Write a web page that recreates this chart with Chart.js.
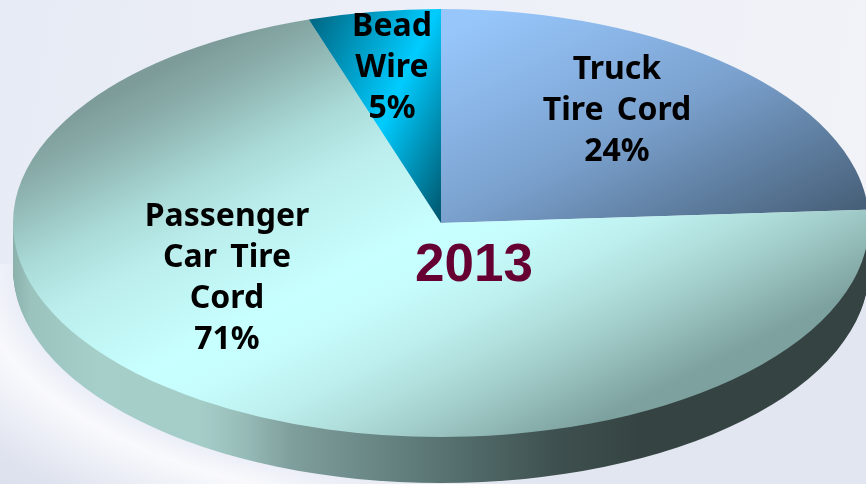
<!DOCTYPE html>
<html><head><meta charset="utf-8">
<style>
html,body{margin:0;padding:0;width:866px;height:484px;overflow:hidden;
background-color:#e6e9f3;
background-image:
 linear-gradient(90deg,rgba(226,230,240,0) 30%,rgba(226,230,240,1) 62%),
 radial-gradient(ellipse 470px 238px at 441px 4px,rgba(255,255,255,0) 90%,rgba(250,250,253,.95) 99%,rgba(244,245,250,.7) 106%,rgba(222,226,238,.9) 122%,rgba(216,221,234,1) 140%),
 linear-gradient(100deg,#e7ebf5 0,#eceff7 40%,#f1f3f8 100%);
background-size:100% 60%,100% 220px,100% 100%;
background-position:0 100%,0 100%,0 0;
background-repeat:no-repeat;}
canvas{display:block}
</style>
<script src="https://cdn.jsdelivr.net/npm/chart.js@4"></script>
</head><body><canvas id="c" width="866" height="484"></canvas>
<script>
const categories=['Truck Tire Cord','Passenger Car Tire Cord','Bead Wire'];
const shares=[24,71,5];
const labelLines=[['Truck','Tire Cord','24%'],['Passenger','Car Tire','Cord','71%'],['Bead','Wire','5%']];
const centreTitle='2013';

const CX=441,CY=223,RX=428,RY=214,DEPTH=46;
const K=RY/RX;
const canvas=document.getElementById('c');
// gradient ends are given in page pixels; the flattened drawing space needs them remapped
function linear(c,cx,cy,x0,y0,x1,y1,stops){
  const dx=x1-x0,dy=y1-y0,L=dx*dx+dy*dy;
  const a=dx/L,b=dy/L*K,n=a*a+b*b;
  const X=x0-CX+cx,Y=(y0-CY)/K+cy;
  const g=c.createLinearGradient(X,Y,X+a/n,Y+b/n);
  stops.forEach(s=>g.addColorStop(s[0],s[1]));
  return g;
}
const rimStops=[[0,'#8ab0ab'],[.02,'#9bc3be'],[.1,'#a7cfca'],[.22,'#a5cdc8'],[.267,'#98bdb9'],[.325,'#7f9f9c'],[.513,'#55706f'],[.64,'#3d4f4e'],[.735,'#354443'],[1,'#354443']];
const tilt={id:'tilt',
  beforeDatasetsDraw(chart){
    const c=chart.ctx,a=chart.getDatasetMeta(0).data[0];
    const cx=a.x,cy=a.y;
    const rim=c.createLinearGradient(cx-RX,0,cx+RX,0);
    rimStops.forEach(s=>rim.addColorStop(s[0],s[1]));
    for(let d=DEPTH;d>0;d--){
      c.save();
      c.translate(CX-cx,CY+d);c.scale(1,K);c.translate(0,-cy);
      c.beginPath();
      c.arc(cx,cy,a.outerRadius,0,Math.PI);
      c.closePath();
      c.fillStyle=rim;c.fill();
      c.restore();
    }
    c.save();
    c.translate(CX,CY);c.scale(1,K);c.translate(-cx,-cy);
  },
  afterDatasetsDraw(chart){chart.ctx.restore();}
};
const labels={id:'labels',
  afterDraw(chart){
    const c=chart.ctx;
    c.save();
    c.textAlign='center';c.textBaseline='alphabetic';c.fillStyle='#000';
    c.font='bold 32px "Noto Sans"';
    c.wordSpacing='5px';
    const spots=[[617,79,41],[227,226,41],[392,36,41]];
    labelLines.forEach((lines,i)=>lines.forEach((t,j)=>c.fillText(t,spots[i][0],spots[i][1]+j*spots[i][2])));
    c.wordSpacing='0px';
    c.fillStyle='#660033';c.font='bold 53px "Liberation Sans"';
    c.fillText(centreTitle,474,281);
    c.restore();
  }
};
new Chart(canvas,{type:'pie',
  data:{labels:categories,datasets:[{data:shares,borderWidth:0,
    backgroundColor(ctx){
      const c=ctx.chart.ctx,i=ctx.dataIndex;
      const a=ctx.chart.getDatasetMeta(0).data[0];
      const cx=a&&a.x||433,cy=a&&a.y||242;
      if(i===0)return linear(c,cx,cy,103,206,255,510,[[0,'#97c6fb'],[.48,'#7ba2cf'],[1,'#476079']]);
      if(i===1)return linear(c,cx,cy,60,120,288,576,[[0,'#7d9c99'],[.086,'#8cb0ad'],[.227,'#aadbd8'],[.333,'#bbeeed'],[.518,'#c8ffff'],[.6,'#c6fcfc'],[.7,'#bdefee'],[.78,'#b0dfdc'],[.875,'#9cc6c3'],[1,'#7da19f']]);
      return linear(c,cx,cy,263,126,441,211,[[0,'#006a87'],[.54,'#00ccff'],[1,'#005a72']]);
    }}]},
  options:{responsive:false,animation:false,rotation:0,radius:RX,
    layout:{padding:0},
    plugins:{legend:{display:false},tooltip:{enabled:false},title:{display:false}}},
  plugins:[tilt,labels]
});
</script></body></html>
